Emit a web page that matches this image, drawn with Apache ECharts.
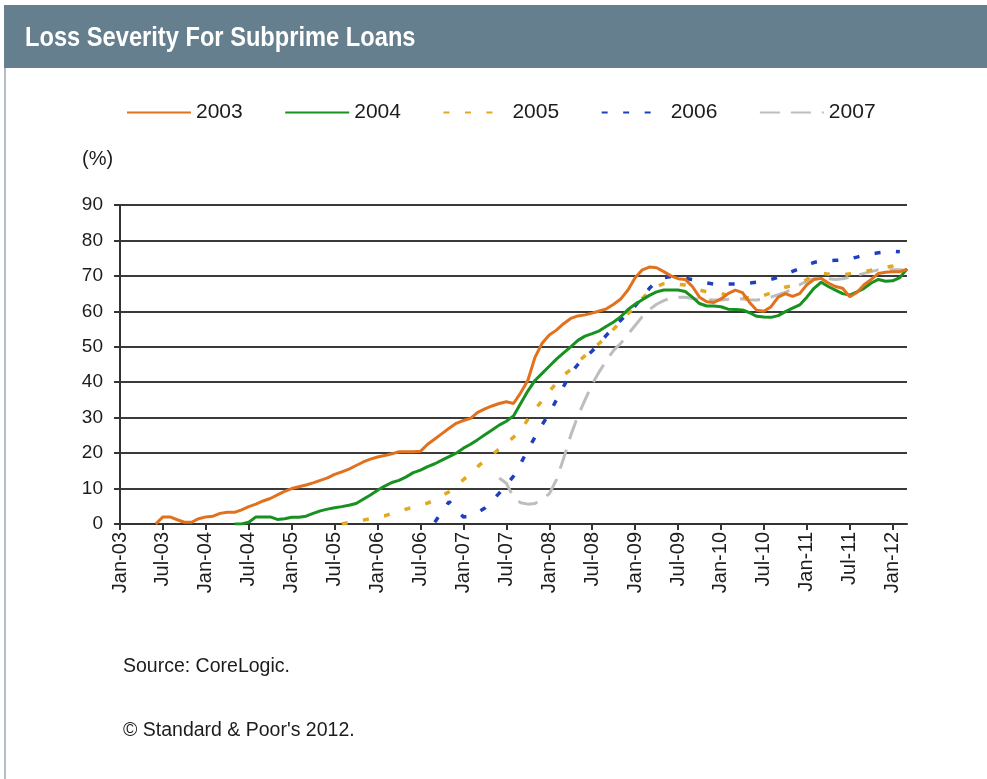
<!DOCTYPE html>
<html>
<head>
<meta charset="utf-8">
<script src="https://cdn.jsdelivr.net/npm/echarts@6/dist/echarts.min.js"></script>
<style>
  html, body { margin: 0; padding: 0; background: #ffffff; }
  #chart { width: 987px; height: 779px; }
</style>
</head>
<body>
<div id="chart"></div>
<script>
// Monthly axis: Jan-03 through Mar-12
const monthNames = ['Jan','Feb','Mar','Apr','May','Jun','Jul','Aug','Sep','Oct','Nov','Dec'];
const firstYear = 2003;
const monthCount = 111;
const categories = [];
for (let k = 0; k < monthCount; k++) {
  const yy = String((firstYear + Math.floor(k / 12)) % 100).padStart(2, '0');
  categories.push(monthNames[k % 12] + '-' + yy);
}

const yTicks = [0, 10, 20, 30, 40, 50, 60, 70, 80, 90];

// Loss severity (%) by vintage, monthly; each list begins at its start month index
const start2003 = 5;
const loss2003 = [
  0, 2, 2, 1.2, 0.5, 0.5, 1.5, 2, 2.2, 3, 3.3, 3.3, 4, 4.9, 5.6, 6.5, 7.2, 8.2, 9.2, 10,
  10.5, 11, 11.6, 12.3, 13, 14, 14.7, 15.5, 16.5, 17.5, 18.3, 18.9, 19.3, 19.8, 20.4, 20.4, 20.4, 20.5, 22.5, 24,
  25.5, 27, 28.4, 29.2, 29.8, 31.5, 32.5, 33.3, 34, 34.5, 34, 37, 40.5, 47, 51, 53.3, 54.7, 56.5, 58, 58.7,
  59, 59.5, 60.1, 60.7, 62, 63.5, 66, 69.5, 71.7, 72.5, 72.3, 71.2, 70, 69.2, 69, 67, 64, 62.7, 62.5, 63.5,
  65, 66, 65.3, 62.5, 60.3, 60, 61.3, 64, 65, 64.2, 65, 67.5, 69, 69.3, 68, 67, 66.5, 64.1, 65.3, 67.5,
  69, 70.7, 71, 71.2, 71.2, 71.8
];

const start2004 = 16;
const loss2004 = [
  0, 0, 0.5, 2, 2, 2, 1.3, 1.5, 1.9, 1.9, 2.2, 3, 3.7, 4.2, 4.6, 4.9, 5.3, 5.8, 7, 8.2,
  9.5, 10.7, 11.7, 12.3, 13.3, 14.5, 15.2, 16.2, 17, 18, 19, 20, 21.4, 22.5, 23.8, 25.2, 26.5, 27.9, 29, 30.5,
  34, 37.5, 40.5, 42.5, 44.5, 46.5, 48.3, 50, 51.8, 53, 53.7, 54.5, 55.8, 57, 58.5, 60.5, 62, 63.3, 64.5, 65.5,
  66, 66, 66, 65.6, 64, 62.2, 61.5, 61.5, 61.3, 60.6, 60.5, 60.4, 59.6, 58.6, 58.4, 58.3, 58.8, 59.9, 60.9, 61.8,
  64, 66.5, 68.2, 67, 66, 65, 64.6, 65.5, 66.5, 68, 69, 68.5, 68.6, 69.5, 72
];

const start2005 = 31;
const loss2005 = [
  0, 0.4, 0.8, 1.1, 1.5, 2, 2.3, 3, 3.6, 4.2, 4.8, 5.4, 5.9, 6.8, 8, 9.1, 10.8, 12.5, 14.2, 16.2,
  18, 19.5, 21.2, 22.7, 24.5, 26.3, 29.5, 32.3, 34.8, 37.4, 39.8, 42, 43.6, 45.7, 47.5, 49.3, 51, 52.8, 55, 57,
  59.3, 61.5, 63.7, 65.5, 67, 67.8, 68, 67.6, 67.4, 66.8, 66, 65.5, 65.3, 65, 64.6, 64.4, 64, 63.8, 64, 64.5,
  65.2, 66, 66.8, 67.3, 67.8, 69, 70.3, 70.8, 70.5, 70.4, 70.3, 70.6, 71, 71.2, 71.6, 72, 72.4, 72.8, 73.7, 74.7
];

const start2006 = 44;
const loss2006 = [
  0.5, 3.5, 6.3, 4, 2, 2.2, 3.3, 4.5, 6.5, 8.7, 11, 13.5, 17, 21, 24.5, 28, 31.2, 35, 38.8, 42.5,
  45, 47, 48.8, 51, 53.3, 55.5, 57.5, 59.5, 61.5, 64, 66.5, 68.5, 69.5, 69.8, 69.6, 69.3, 69, 68.5, 68, 67.7,
  67.7, 67.7, 67.7, 67.8, 68, 68.2, 68.5, 69, 69.6, 70.5, 71.3, 72.1, 73, 73.8, 74.2, 74.3, 74.4, 74.5, 74.8, 75.3,
  75.9, 76.2, 76.5, 76.8, 77, 76.8
];

const start2007 = 53;
const loss2007 = [
  13, 11.5, 7.5, 6, 5.6, 5.8, 7, 8.5, 12.5, 18.5, 25, 30.5, 35, 39.5, 43, 46.2, 49, 51, 53.5, 56,
  58.5, 60.5, 62, 63, 63.8, 64, 64, 63.6, 63.4, 63.3, 63.2, 63.2, 63.4, 63.7, 63.5, 63.3, 63.2, 63.5, 64, 64.7,
  65.3, 66.5, 67.5, 68.5, 69.2, 69.3, 69.2, 69, 69.2, 69.6, 70.2, 70.7, 71.2, 71.7, 71.7, 71.7, 71.7, 71.5
];

const seriesNames = ['2003', '2004', '2005', '2006', '2007'];
const seriesColors = ['#e2711d', '#17911f', '#e0a823', '#1f3fbf', '#bdbdbd'];

function padded(start, values) {
  const out = new Array(start).fill(null);
  return out.concat(values);
}

const seriesData = [
  padded(start2003, loss2003),
  padded(start2004, loss2004),
  padded(start2005, loss2005),
  padded(start2006, loss2006),
  padded(start2007, loss2007)
];

const lineStyles = [
  { width: 3, type: 'solid' },
  { width: 3, type: 'solid' },
  { width: 3.5, type: [6, 15.5], cap: 'butt' },
  { width: 3.5, type: [6, 15.5], cap: 'butt' },
  { width: 3, type: [20, 11], cap: 'butt' }
];

const textFont = '"Liberation Sans", Arial, sans-serif';
const textColor = '#1c1c1c';

const chart = echarts.init(document.getElementById('chart'), null, { renderer: 'canvas' });

chart.setOption({
  backgroundColor: '#ffffff',
  animation: false,
  grid: { left: 120, right: 80, top: 205, bottom: 255, containLabel: false },
  legend: {
    left: 121,
    top: 97,
    itemWidth: 64,
    itemHeight: 14,
    itemGap: 41.5,
    itemStyle: { opacity: 0 },
    textStyle: { fontFamily: textFont, fontSize: 21, color: textColor },
    data: seriesNames
  },
  xAxis: {
    type: 'category',
    data: categories,
    boundaryGap: false,
    axisLine: { lineStyle: { color: '#333333', width: 2 } },
    axisTick: { show: true, interval: 5, length: 6, lineStyle: { color: '#333333', width: 2 } },
    axisLabel: {
      interval: 5,
      rotate: 90,
      margin: 8,
      fontFamily: textFont,
      fontSize: 20,
      color: textColor
    },
    splitLine: { show: false }
  },
  yAxis: {
    type: 'value',
    min: yTicks[0],
    max: yTicks[yTicks.length - 1],
    interval: 10,
    axisLine: { show: true, lineStyle: { color: '#333333', width: 2 } },
    axisTick: { show: true, length: 6, lineStyle: { color: '#333333', width: 2 } },
    axisLabel: { margin: 17, fontFamily: textFont, fontSize: 19, color: textColor },
    splitLine: { show: true, lineStyle: { color: '#3a3a3a', width: 2 } }
  },
  series: seriesNames.map((name, k) => ({
    name: name,
    type: 'line',
    data: seriesData[k],
    showSymbol: false,
    symbol: 'none',
    connectNulls: false,
    z: 10 - k,
    itemStyle: { color: seriesColors[k] },
    lineStyle: Object.assign({ color: seriesColors[k] }, lineStyles[k])
  })),
  graphic: [
    { type: 'rect', shape: { x: 4, y: 5, width: 983, height: 63 }, style: { fill: '#667f8f' }, z: 1 },
    { type: 'rect', shape: { x: 4, y: 68, width: 2, height: 711 }, style: { fill: '#b4bec6' }, z: 1 },
    {
      type: 'text', x: 25, y: 38, scaleX: 0.845, z: 2,
      style: { text: 'Loss Severity For Subprime Loans', fill: '#ffffff', verticalAlign: 'middle',
        font: 'bold 28px "Liberation Sans", Arial, sans-serif' }
    },
    {
      type: 'text', x: 82, y: 159, z: 2,
      style: { text: '(%)', fill: textColor, verticalAlign: 'middle', font: '20px ' + textFont }
    },
    {
      type: 'text', x: 123, y: 667, z: 2,
      style: { text: 'Source: CoreLogic.', fill: textColor, verticalAlign: 'middle', font: '19.5px ' + textFont }
    },
    {
      type: 'text', x: 123, y: 731, z: 2,
      style: { text: '\u00A9 Standard & Poor\'s 2012.', fill: textColor, verticalAlign: 'middle', font: '19.5px ' + textFont }
    }
  ]
});
</script>
</body>
</html>
